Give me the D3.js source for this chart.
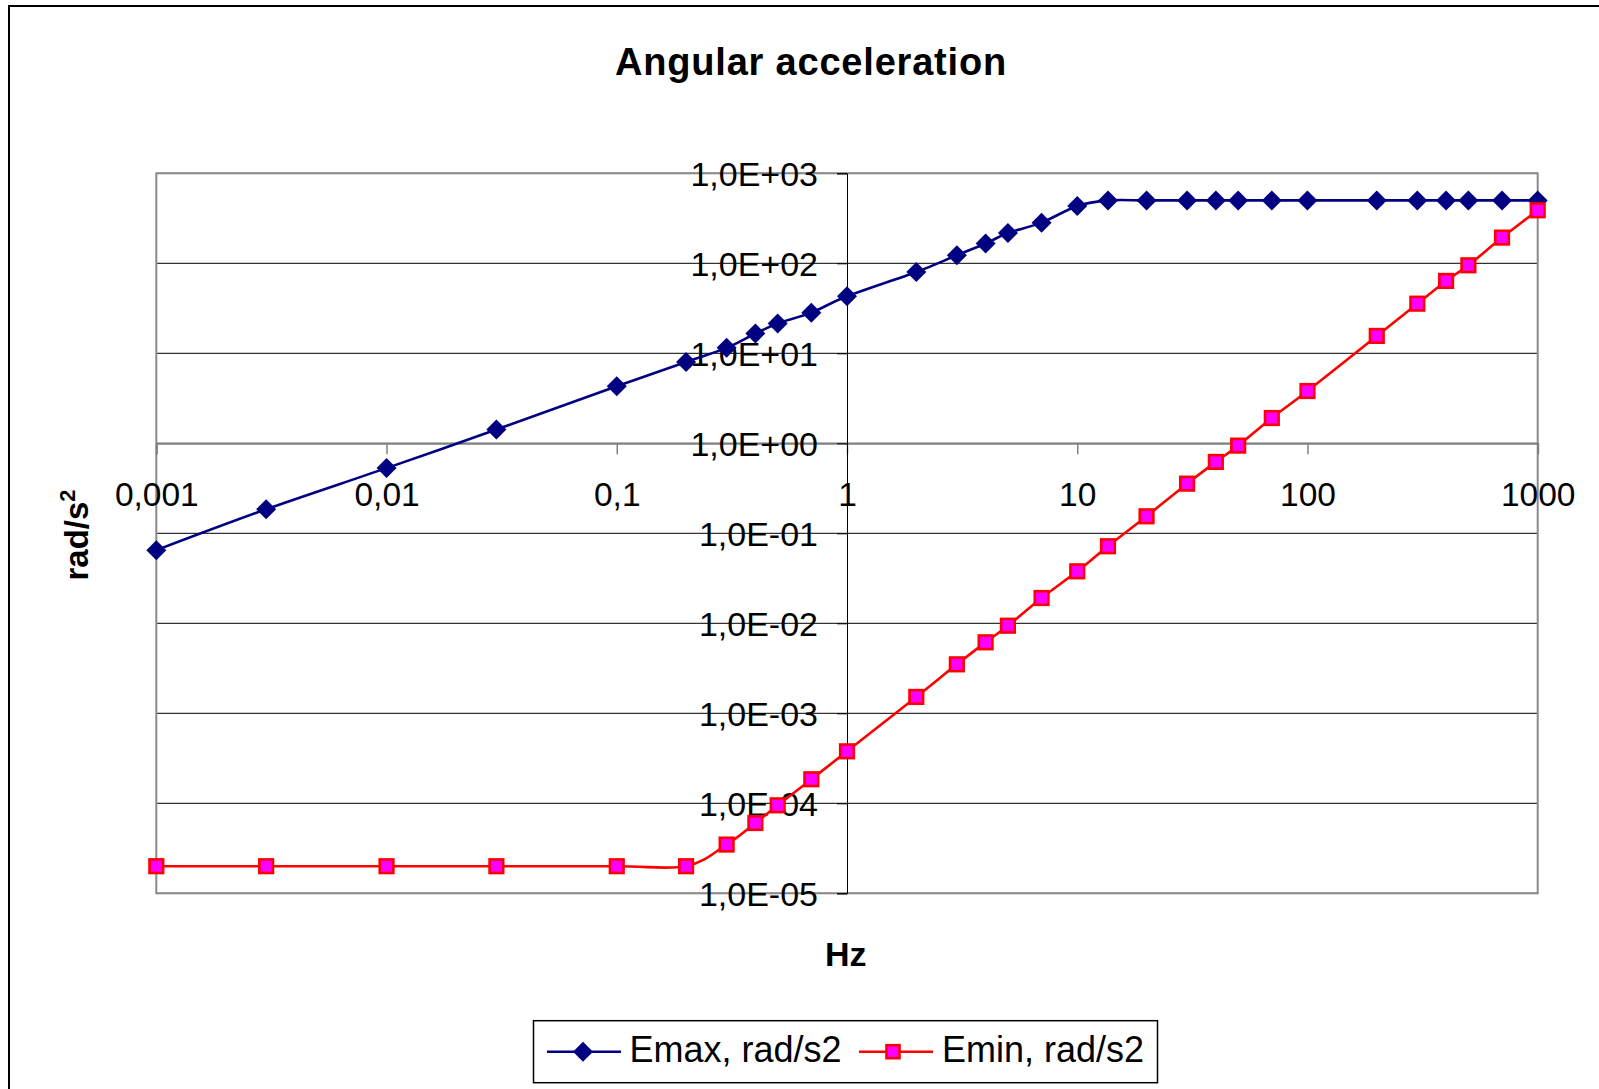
<!DOCTYPE html>
<html><head><meta charset="utf-8">
<script src="https://cdn.jsdelivr.net/npm/d3@7"></script>
<style>
body{margin:0;background:#fff}
svg{display:block}
text{font-family:"Liberation Sans",Arial,sans-serif;fill:#000}
</style>
</head><body>
<svg id="chart" width="1599" height="1089"></svg>
<script>
// ---- data ----
const freq = [0.001,0.003,0.01,0.03,0.1,0.2,0.3,0.4,0.5,0.7,1,2,3,4,5,7,10,13.6,20,30,40,50,70,100,200,300,400,500,700,1000];
const emax = [0.065,0.185,0.53,1.42,4.3,8.0,11.5,16.6,21.4,28.3,43,80,123,166,217,283,433,500,500,500,500,500,500,500,500,500,500,500,500,500];
const emin = [2e-5,2e-5,2e-5,2e-5,2e-5,2e-5,3.48e-5,6.04e-5,9.5e-5,1.85e-4,3.78e-4,1.52e-3,3.5e-3,6.15e-3,9.4e-3,0.0191,0.0378,0.0718,0.1545,0.356,0.621,0.942,1.91,3.81,15.6,35.6,63.7,95,193,388];
const xTicks = [0.001,0.01,0.1,1,10,100,1000];
const xTickLabels = ["0,001","0,01","0,1","1","10","100","1000"];
const yTicks = [1e3,1e2,1e1,1e0,1e-1,1e-2,1e-3,1e-4,1e-5];
const yTickLabels = ["1,0E+03","1,0E+02","1,0E+01","1,0E+00","1,0E-01","1,0E-02","1,0E-03","1,0E-04","1,0E-05"];
const seriesNames = ["Emax, rad/s2","Emin, rad/s2"];

// ---- layout ----
const L = 156.3, R = 1537.7, T = 173.3, B = 893.3;
const svg = d3.select("#chart");
const x = d3.scaleLog().domain([0.001,1000]).range([L,R]);
const y = d3.scaleLog().domain([1e-5,1e3]).range([B,T]);

// outer frame
svg.append("rect").attr("x",9).attr("y",6).attr("width",1700).attr("height",1200)
  .attr("fill","#fff").attr("stroke","#000").attr("stroke-width",2);

// title
svg.append("text").attr("x",811).attr("y",75).attr("text-anchor","middle")
  .attr("font-size",38).attr("font-weight","bold").attr("letter-spacing","0.8px")
  .text("Angular acceleration");

// plot background
svg.append("rect").attr("x",L).attr("y",T).attr("width",R-L).attr("height",B-T).attr("fill","#fff");

// horizontal gridlines
svg.append("g").selectAll("line").data(yTicks).join("line")
  .attr("x1",L).attr("x2",R).attr("y1",d=>y(d)).attr("y2",d=>y(d))
  .attr("stroke","#000").attr("stroke-width",1);

// plot border
svg.append("rect").attr("x",L).attr("y",T).attr("width",R-L).attr("height",B-T)
  .attr("fill","none").attr("stroke","#8a8a8a").attr("stroke-width",2);

// x axis at y=1
const xAxis = d3.axisBottom(x).tickValues(xTicks).tickSize(11).tickFormat((d,i)=>xTickLabels[i]);
const gx = svg.append("g").attr("transform",`translate(0,${y(1)})`).call(xAxis);
gx.select(".domain").attr("stroke","#808080").attr("stroke-width",2);
gx.selectAll(".tick line").attr("stroke","#808080").attr("stroke-width",1.5);
gx.selectAll(".tick text").attr("font-size",33.5).attr("font-family","'Liberation Sans',Arial,sans-serif")
  .attr("y",null).attr("dy",null).attr("transform","translate(0,63)").attr("fill","#000");

// y axis at x=1
const yAxis = d3.axisLeft(y).tickValues(yTicks).tickSize(10).tickFormat((d,i)=>yTickLabels[i]);
const gy = svg.append("g").attr("transform",`translate(${x(1)},0)`).call(yAxis);
gy.select(".domain").attr("stroke","#000").attr("stroke-width",1);
gy.selectAll(".tick line").attr("stroke","#000").attr("stroke-width",1);
gy.selectAll(".tick text").attr("font-size",34).attr("font-family","'Liberation Sans',Arial,sans-serif")
  .attr("x",-29).attr("dy","0.36em").attr("fill","#000");

// axis titles
svg.append("text").attr("x",845.7).attr("y",966).attr("text-anchor","middle")
  .attr("font-size",34).attr("font-weight","bold").text("Hz");
const yt = svg.append("text").attr("transform","translate(87.5,535) rotate(-90)")
  .attr("text-anchor","middle").attr("font-size",33).attr("font-weight","bold");
yt.append("tspan").text("rad/s");
yt.append("tspan").attr("font-size",22).attr("dy",-13).text("2");

// series
const line = d3.line().x(d=>x(d[0])).y(d=>y(d[1])).curve(d3.curveCardinal.tension(0));
const dMax = freq.map((f,i)=>[f,emax[i]]);
const dMin = freq.map((f,i)=>[f,emin[i]]);
const diamond = "M0,-10L10,0L0,10L-10,0Z";

svg.append("path").datum(dMax).attr("d",line).attr("fill","none").attr("stroke","#000080").attr("stroke-width",2.6);
svg.append("g").selectAll("path").data(dMax).join("path")
  .attr("d",diamond).attr("transform",d=>`translate(${x(d[0])},${y(d[1])})`).attr("fill","#000080");

svg.append("path").datum(dMin).attr("d",line).attr("fill","none").attr("stroke","#ff0000").attr("stroke-width",2.6);
svg.append("g").selectAll("rect").data(dMin).join("rect")
  .attr("x",d=>x(d[0])-6.8).attr("y",d=>y(d[1])-6.8).attr("width",13.6).attr("height",13.6)
  .attr("fill","#ff00ff").attr("stroke","#ff0000").attr("stroke-width",2.6);

// legend
const lg = svg.append("g");
lg.append("rect").attr("x",533.5).attr("y",1020.7).attr("width",624).attr("height",62)
  .attr("fill","#fff").attr("stroke","#000").attr("stroke-width",1.5);
const ly = 1051.7;
lg.append("line").attr("x1",547).attr("x2",621).attr("y1",ly).attr("y2",ly).attr("stroke","#000080").attr("stroke-width",2.6);
lg.append("path").attr("d",diamond).attr("transform",`translate(583,${ly})`).attr("fill","#000080");
lg.append("text").attr("x",629.5).attr("y",1061.7).attr("font-size",36).text(seriesNames[0]);
lg.append("line").attr("x1",859).attr("x2",933).attr("y1",ly).attr("y2",ly).attr("stroke","#ff0000").attr("stroke-width",2.6);
lg.append("rect").attr("x",893-6.5).attr("y",ly-6.5).attr("width",13).attr("height",13)
  .attr("fill","#ff00ff").attr("stroke","#ff0000").attr("stroke-width",2.6);
lg.append("text").attr("x",942).attr("y",1061.7).attr("font-size",36).text(seriesNames[1]);
</script>
</body></html>
